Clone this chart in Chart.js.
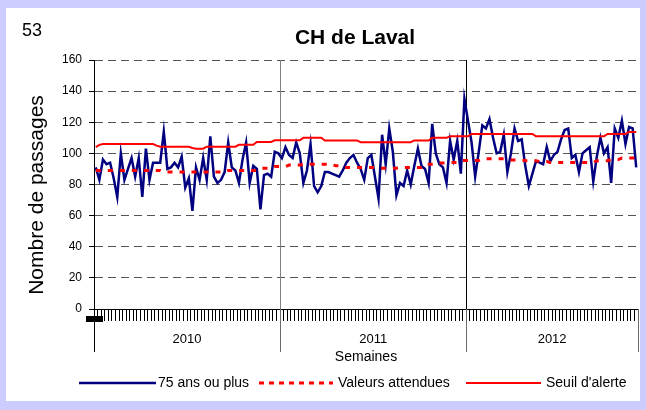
<!DOCTYPE html>
<html lang="fr">
<head>
<meta charset="UTF-8">
<title>CH de Laval</title>
<style>
  html, body { margin: 0; padding: 0; background: #ccccff; }
  canvas { display: block; }
</style>
</head>
<body>
<canvas id="chart" width="646" height="410"></canvas>

<script src="https://cdn.jsdelivr.net/npm/chart.js"></script>
<script>
// --- data (weekly counts) ---
const years = ['2010', '2011', '2012'];
const weeksPerYear = [52, 52, 48];
const seriesNames = ['75 ans ou plus', 'Valeurs attendues', "Seuil d'alerte"];
const yMin = 0, yMax = 160, yStep = 20;

const plus75 = [
  91, 83, 96, 93, 94, 84, 72, 100, 83, 90, 97, 85, 97, 72, 103, 83, 94, 94, 94, 114,
  90, 91, 94, 91, 98, 78, 84, 63, 91, 83, 97, 83, 111, 85, 81, 83, 88, 107, 91, 89,
  81, 96, 107, 81, 92, 90, 64, 86, 87, 85, 101, 100,
  97, 104, 99, 97, 107, 100, 81, 89, 106, 79, 75, 79, 88, 88, 87, 86, 85, 89, 94, 97,
  99, 94, 90, 83, 97, 99, 85, 71, 112, 93, 116, 101, 73, 81, 79, 89, 80, 92, 103, 92,
  90, 81, 119, 100, 93, 91, 81, 108, 96, 108, 87, 135,
  121, 107, 85, 101, 118, 116, 122, 110, 100, 101, 112, 88, 100, 116, 108, 109, 92, 79, 87, 95,
  94, 93, 104, 95, 99, 101, 109, 115, 116, 97, 99, 88, 100, 102, 104, 82, 98, 110, 100, 104,
  81, 116, 110, 121, 106, 117, 116, 91
];

const attendues = [
  89, 89, 89, 89, 89, 89, 89, 89, 89, 89, 89, 89, 89, 89, 89, 89, 89, 89, 89,
  88, 88, 88, 88, 88, 88, 88, 88, 88, 88, 88, 88, 88, 88, 88, 88, 88, 88,
  89, 89, 89, 89, 89, 89, 89, 89, 89, 90.5, 90.5, 90.5, 90.5, 91.5, 91.5,
  91.5, 91.5, 92.5, 92.5, 92.5, 92.5, 93, 93, 93, 93, 93, 93, 93, 93, 93, 92, 92,
  91, 91, 91, 91, 91, 91, 91, 91, 91, 91, 90.5, 90.5, 90.5, 90.5, 90.5, 90.5,
  91, 91, 91, 91, 91, 91, 91, 93, 93, 93, 93, 93.8, 93.8, 93.8, 94.2, 94.2, 94.2, 95.5, 95.5,
  95.5, 95.5, 95.5, 95.5, 96.5, 96.5, 96.5, 96.5, 96.5, 96.5, 96.5, 96.5,
  95.8, 95.8, 95.8, 95.8, 95.3, 95.3, 95.3, 95.3, 94.8, 94.8, 94.8,
  94.2, 94.2, 94.2, 94.2, 94.2, 94.2, 94.2, 94.2, 94.2, 94.2, 94.2, 94.2, 94.2,
  95.3, 95.3, 95.3, 95.3, 96, 96, 96, 97, 97, 97, 97, 97
];

const seuil = [
  104, 105.5, 106, 106, 106, 106, 106, 106, 106, 106, 106, 106, 106, 106, 106, 106, 106, 105,
  104.3, 104.3, 104.3, 104.3, 104.3, 104.3, 104.3, 104.3, 104.3, 103.5, 103, 103, 103,
  104.3, 104.3, 104.3, 104.3, 104.3, 104.3, 104.3, 104.3, 104.3,
  105.5, 105.5, 105.5, 105.5, 105.5, 107.3, 107.3, 107.3, 107.3, 107.3, 108.4, 108.4,
  108.4, 108.4, 108.4, 108.4, 108.4, 108.4, 110, 110, 110, 110, 110, 110,
  108.3, 108.3, 108.3, 108.3, 108.3, 108.3, 108.3, 108.3, 108.3, 108.3,
  107.2, 107.2, 107.2, 107.2, 107.2, 107.2, 107.2, 107.2, 107.2, 107.2, 107.2, 107.2, 107.2, 107.2, 107.2,
  108.3, 108.3, 108.3, 108.3, 108.3, 110, 110, 110, 110, 110, 111, 111, 111, 111, 111,
  111, 112.5, 112.5, 112.5, 112.5, 112.5, 112.5, 112.5, 112.5, 112.5, 112.5, 112.5, 112.5, 112.5, 112.5, 112.5, 112.5, 112.5, 112.5,
  111, 111, 111, 111, 111, 111, 111, 111, 111, 111, 111, 111, 111, 111, 111, 111, 111, 111, 111, 111,
  112.5, 112.5, 112.5, 112.5, 112.5, 112.5, 113.8, 113.8, 113.8
];

// one label per week, grouped by year
const labels = [];
years.forEach((y, k) => {
  for (let w = 1; w <= weeksPerYear[k]; w++) labels.push(y + '-S' + w);
});

const FONT = "'Liberation Sans', Arial, sans-serif";
Chart.defaults.font.family = FONT;
Chart.defaults.color = '#000';

// pixel edges of each year group on the category axis
function yearEdges(chart) {
  const x = chart.scales.x;
  const half = (x.getPixelForValue(1) - x.getPixelForValue(0)) / 2;
  const edges = [x.getPixelForValue(0) - half];
  let idx = 0;
  weeksPerYear.forEach(n => {
    idx += n;
    edges.push(x.getPixelForValue(idx - 1) + half);
  });
  return edges;
}

function line(ctx, x1, y1, x2, y2) {
  ctx.beginPath();
  ctx.moveTo(x1, y1);
  ctx.lineTo(x2, y2);
  ctx.stroke();
}

const decor = {
  id: 'decor',
  beforeDraw(chart) {
    const ctx = chart.ctx;
    ctx.save();
    ctx.fillStyle = '#ccccff';
    ctx.fillRect(0, 0, chart.width, chart.height);
    ctx.fillStyle = '#ffffff';
    ctx.fillRect(6, 8, 634, 393);
    ctx.restore();
  },
  beforeDatasetsDraw(chart) {
    const {ctx, chartArea: a} = chart;
    const edges = yearEdges(chart);
    ctx.save();
    ctx.lineWidth = 1;
    edges.forEach((px, k) => {
      const xx = Math.round(px) + 0.5;
      if (k > 0 && k < edges.length - 1) {
        ctx.strokeStyle = k === 1 ? '#808080' : '#000';
        line(ctx, xx, a.top, xx, a.bottom);
      }
      ctx.strokeStyle = k === 0 ? '#000' : '#6a6a6a';
      line(ctx, xx, a.bottom, xx, a.bottom + 43);
    });
    ctx.restore();
  },
  afterDraw(chart) {
    const {ctx, chartArea: a} = chart;
    const edges = yearEdges(chart);
    ctx.save();
    ctx.fillStyle = '#000';

    ctx.font = '18px ' + FONT;
    ctx.textAlign = 'left';
    ctx.textBaseline = 'alphabetic';
    ctx.fillText('53', 22, 36);

    ctx.font = 'bold 21px ' + FONT;
    ctx.textAlign = 'center';
    ctx.fillText('CH de Laval', 355, 44);

    // y axis title
    ctx.save();
    ctx.translate(37, 195);
    ctx.rotate(-Math.PI / 2);
    ctx.font = '21px ' + FONT;
    ctx.textBaseline = 'middle';
    ctx.fillText('Nombre de passages', 0, 0);
    ctx.restore();

    // year labels
    ctx.font = '13px ' + FONT;
    ctx.textBaseline = 'middle';
    years.forEach((y, k) => ctx.fillText(y, (edges[k] + edges[k + 1]) / 2, 339));

    ctx.font = '14px ' + FONT;
    ctx.fillText('Semaines', (a.left + a.right) / 2, 357);

    // small black mark under the origin
    ctx.fillRect(86, 316, 17, 6);

    // legend
    const items = [[79, 156, 158], [259, 333, 338], [466, 541, 546]];
    const ly = 383;
    ctx.font = '14px ' + FONT;
    ctx.textAlign = 'left';
    items.forEach((it, i) => {
      const ds = chart.data.datasets[i];
      ctx.save();
      ctx.strokeStyle = ds.borderColor;
      ctx.lineWidth = ds.borderWidth;
      ctx.setLineDash(i === 1 ? [5, 5] : []);
      line(ctx, it[0], ly, it[1], ly);
      ctx.restore();
      ctx.fillText(seriesNames[i], it[2], ly);
    });
    ctx.restore();
  }
};

new Chart(document.getElementById('chart'), {
  type: 'line',
  data: {
    labels: labels,
    datasets: [
      {
        label: seriesNames[0],
        data: plus75,
        borderColor: '#000080',
        borderWidth: 2.5,
        pointRadius: 0,
        tension: 0,
        order: 3
      },
      {
        label: seriesNames[1],
        data: attendues,
        borderColor: '#ff0000',
        borderWidth: 3,
        borderDash: [5, 7],
        pointRadius: 0,
        tension: 0,
        order: 2
      },
      {
        label: seriesNames[2],
        data: seuil,
        borderColor: '#ff0000',
        borderWidth: 2,
        pointRadius: 0,
        tension: 0,
        order: 1
      }
    ]
  },
  options: {
    responsive: false,
    animation: false,
    events: [],
    layout: { padding: { left: 0, top: 60, right: 8, bottom: 89 } },
    plugins: {
      legend: { display: false },
      title: { display: false },
      tooltip: { enabled: false }
    },
    scales: {
      x: {
        type: 'category',
        offset: true,
        grid: {
          display: true,
          drawOnChartArea: false,
          drawTicks: true,
          tickLength: 12,
          color: '#000',
          offset: true
        },
        border: { display: true, color: '#000', width: 1 },
        ticks: { display: false },
        afterFit: s => { s.height = 12; }
      },
      y: {
        min: yMin,
        max: yMax,
        ticks: {
          stepSize: yStep,
          padding: 7,
          font: { size: 12 },
          color: '#000'
        },
        grid: {
          color: c => (c.tick && c.tick.value === 0) ? 'rgba(0,0,0,0)' : '#555',
          lineWidth: 1,
          tickLength: 5,
          tickColor: '#000',
          drawTicks: true
        },
        border: { display: true, color: '#000', width: 1, dash: [8, 5] },
        afterFit: s => { s.width = 94; }
      }
    }
  },
  plugins: [decor]
});
</script>
</body>
</html>
